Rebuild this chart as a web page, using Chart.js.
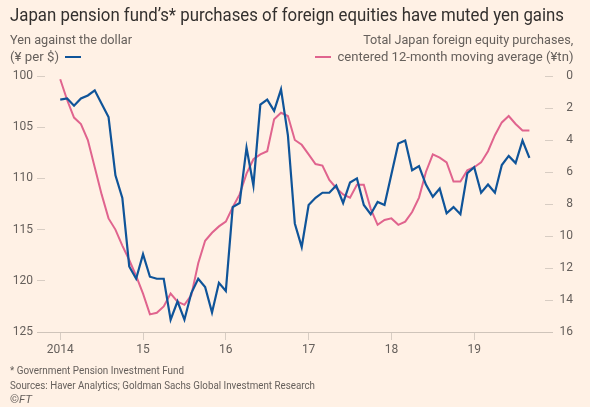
<!DOCTYPE html>
<html><head><meta charset="utf-8">
<script src="https://cdn.jsdelivr.net/npm/chart.js@4/dist/chart.umd.min.js"></script>
<style>
html,body{margin:0;padding:0;background:#fff1e5;}
#wrap{position:relative;width:590px;height:407px;overflow:hidden;font-family:Roboto,"Noto Sans",sans-serif;background:#fff1e5;}
canvas{position:absolute;left:0;top:0;}
.t{position:absolute;white-space:nowrap;line-height:1;}
.sub{font-size:13px;color:#66605c;}
.foot{font-size:10.5px;color:#66605c;left:10px;}
.leg{position:absolute;height:2px;}
</style></head>
<body><div id="wrap">
<canvas id="c" width="590" height="407"></canvas>
<div class="t fit" style="left:10px;top:5px;font-size:19px;color:#33302e" data-w="554">Japan pension fund’s* purchases of foreign equities have muted yen gains</div>
<div class="t sub fit" style="left:10px;top:33px" data-w="122">Yen against the dollar</div>
<div class="t sub fit" style="left:10px;top:50px" data-w="49">(¥ per $)</div>
<div class="leg" style="left:65px;top:56px;width:16px;background:#0f5499"></div>
<div class="t sub fit r" style="right:17px;top:33px" data-w="210">Total Japan foreign equity purchases,</div>
<div class="t sub fit r" style="right:17px;top:50px" data-w="236">centered 12-month moving average (¥tn)</div>
<div class="leg" style="left:315px;top:56px;width:16px;background:#e0648e"></div>
<div class="t foot fit" style="top:366px" data-w="174">* Government Pension Investment Fund</div>
<div class="t foot fit" style="top:381px" data-w="305">Sources: Haver Analytics; Goldman Sachs Global Investment Research</div>
<div class="t foot fit" style="top:395px" data-w="22">©<i>FT</i></div>
</div>
<script>
// Monthly data, Jan 2014 – Sep 2019
const startYear = 2014;
const yen = [102.3,102.2,102.9,102.2,101.9,101.4,102.7,104.0,109.7,111.9,118.6,119.8,
  117.4,119.6,119.8,119.8,123.8,122.0,123.8,121.2,119.8,120.6,123.1,120.2,
  121.0,112.8,112.4,107.0,110.7,102.8,102.3,103.4,101.3,105.8,114.4,116.7,
  112.6,111.9,111.4,111.4,110.7,112.4,110.4,110.0,112.6,113.5,112.3,112.6,
  109.6,106.6,106.3,109.2,108.8,110.6,111.8,111.0,113.4,112.8,113.5,109.5,
  108.9,111.4,110.6,111.4,108.7,107.8,108.5,106.3,108.0];
const purchases = [0.2,1.5,2.6,3.0,4.0,5.7,7.4,8.9,9.6,10.6,11.5,12.5,
  13.6,14.9,14.8,14.4,13.6,14.1,14.3,13.7,11.7,10.3,9.8,9.4,
  9.1,8.2,7.4,6.1,5.2,4.9,4.7,2.7,2.3,2.5,4.0,4.3,
  4.9,5.5,5.6,6.5,7.0,7.4,7.6,6.8,6.8,8.3,9.3,9.0,
  8.9,9.3,9.1,8.5,7.6,6.0,4.9,5.1,5.4,6.6,6.6,5.9,
  5.7,5.4,4.7,3.7,2.9,2.5,3.0,3.4,3.4];
const yearTicks = [2014,2015,2016,2017,2018,2019];
const yenTicks = [100,105,110,115,120,125];
const purchaseTicks = [0,2,4,6,8,10,12,14,16];

const pts = arr => arr.map((v,i)=>({x: startYear + i/12, y: v}));
const tickCol = '#d8cdc3';
const labCol = '#66605c';
const fnt = {family:'Roboto', size:12};

const baseline = {
  id:'baseline',
  afterDatasetsDraw(chart){
    const {ctx, chartArea:a} = chart;
    ctx.save();
    ctx.strokeStyle = '#cfc4ba';
    ctx.lineWidth = 1;
    ctx.beginPath();
    ctx.moveTo(a.left-8, Math.round(a.bottom)+0.5);
    ctx.lineTo(a.right+8, Math.round(a.bottom)+0.5);
    ctx.stroke();
    ctx.restore();
  }
};

new Chart(document.getElementById('c'), {
  type:'line',
  data:{datasets:[
    {label:'Yen against the dollar', data:pts(yen), yAxisID:'y', borderColor:'#0f5499', borderWidth:2.2, pointRadius:0, tension:0, order:0},
    {label:'Purchases', data:pts(purchases), yAxisID:'y2', borderColor:'#e0648e', borderWidth:2, pointRadius:0, tension:0, order:1}
  ]},
  options:{
    responsive:false, animation:false, devicePixelRatio:1,
    layout:{padding:{left:0,right:17,top:76,bottom:45}},
    plugins:{legend:{display:false}, tooltip:{enabled:false}},
    scales:{
      x:{type:'linear', min:2013.816, max:2019.855,
        afterBuildTicks:s=>{s.ticks = yearTicks.map(v=>({value:v}));},
        afterFit:s=>{s.height=30;},
        ticks:{color:labCol, font:fnt, padding:3, maxRotation:0,
          callback:v=> v===2014 ? '2014' : String(v).slice(2)},
        grid:{drawOnChartArea:false, tickLength:8, color:tickCol},
        border:{display:false}},
      y:{position:'left', reverse:true, min:100, max:125,
        afterBuildTicks:s=>{s.ticks = yenTicks.map(v=>({value:v}));},
        afterFit:s=>{s.width=45;},
        ticks:{color:labCol, font:fnt, padding:4},
        grid:{drawOnChartArea:false, tickLength:8, color:tickCol},
        border:{display:false}},
      y2:{position:'right', reverse:true, min:0, max:16,
        afterBuildTicks:s=>{s.ticks = purchaseTicks.map(v=>({value:v}));},
        afterFit:s=>{s.width=28;},
        ticks:{color:labCol, font:fnt, padding:4, crossAlign:'far'},
        grid:{drawOnChartArea:false, tickLength:8, color:tickCol},
        border:{display:false}}
    }
  },
  plugins:[baseline]
});

function fit(){
  document.querySelectorAll('.fit').forEach(el=>{
    el.style.transform='none';
    const w = el.getBoundingClientRect().width;
    const target = +el.dataset.w;
    el.style.transformOrigin = el.classList.contains('r') ? 'right center' : 'left center';
    el.style.transform = 'scaleX(' + (target/w) + ')';
  });
}
fit();
if (document.fonts && document.fonts.ready) document.fonts.ready.then(fit);
</script>
</body></html>
